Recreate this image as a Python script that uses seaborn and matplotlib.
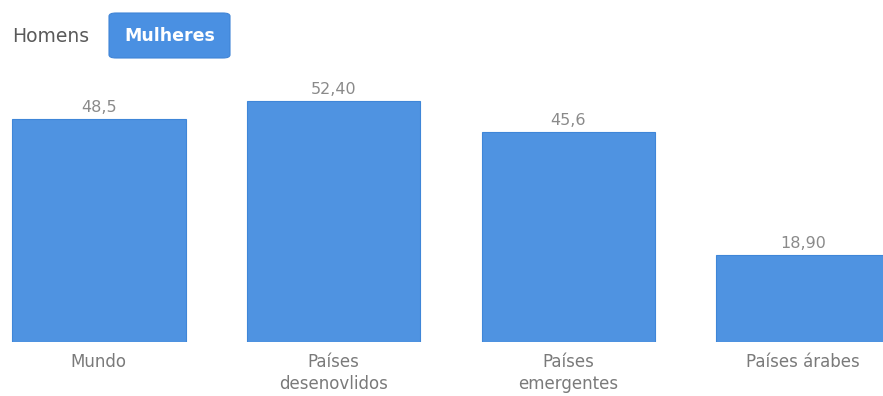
import matplotlib
matplotlib.use("Agg")
import matplotlib.pyplot as plt
from matplotlib.patches import FancyBboxPatch
import seaborn as sns
import pandas as pd

categories = ["Mundo", "Países\ndesenovlidos", "Países\nemergentes", "Países árabes"]
values = [48.5, 52.40, 45.6, 18.90]
value_labels = ["48,5", "52,40", "45,6", "18,90"]
buttons = ["Homens", "Mulheres"]

sns.set_theme(style="white")
plt.rcParams['font.family'] = ['DejaVu Sans']

W, H = 883, 396
fig = plt.figure(figsize=(W / 100, H / 100), dpi=100)
ax = fig.add_axes([0, (H - 342) / H, 1, (342 - 80) / H])

df = pd.DataFrame({"cat": categories, "val": values})
sns.barplot(data=df, x="cat", y="val", color="#4f93e1", saturation=1,
            width=0.74, ax=ax)
for p in ax.patches:
    p.set_edgecolor("#3f86d8")
    p.set_linewidth(0.8)

ax.set_xlim(-0.421, 3.340)
ax.set_ylim(0, (342 - 80) / 4.6)
ax.bar_label(ax.containers[0], labels=value_labels, padding=3,
             fontsize=11.5, color="#8a8a8a")

ax.set_xlabel("")
ax.set_ylabel("")
ax.set_yticks([])
ax.tick_params(axis="x", length=0, pad=8, labelsize=12, labelcolor="#7a7a7a")
for t in ax.get_xticklabels():
    t.set_linespacing(1.25)
for s in ax.spines.values():
    s.set_visible(False)

# toggle buttons
fig.text(12 / W, 1 - 37 / H, buttons[0], fontsize=13.5, color="#5a5a5a",
         ha="left", va="center")
btn = FancyBboxPatch((109 / W, 1 - 58 / H), 121 / W, 45 / H,
                     boxstyle="round,pad=0,rounding_size=0.008",
                     transform=fig.transFigure, facecolor="#4a90e2",
                     edgecolor="#3f84d6", linewidth=0.8)
fig.patches.append(btn)
fig.text(169.5 / W, 1 - 36 / H, buttons[1], fontsize=12.5, color="white",
         fontweight="bold", ha="center", va="center")

fig.savefig("out.png", dpi=100)
